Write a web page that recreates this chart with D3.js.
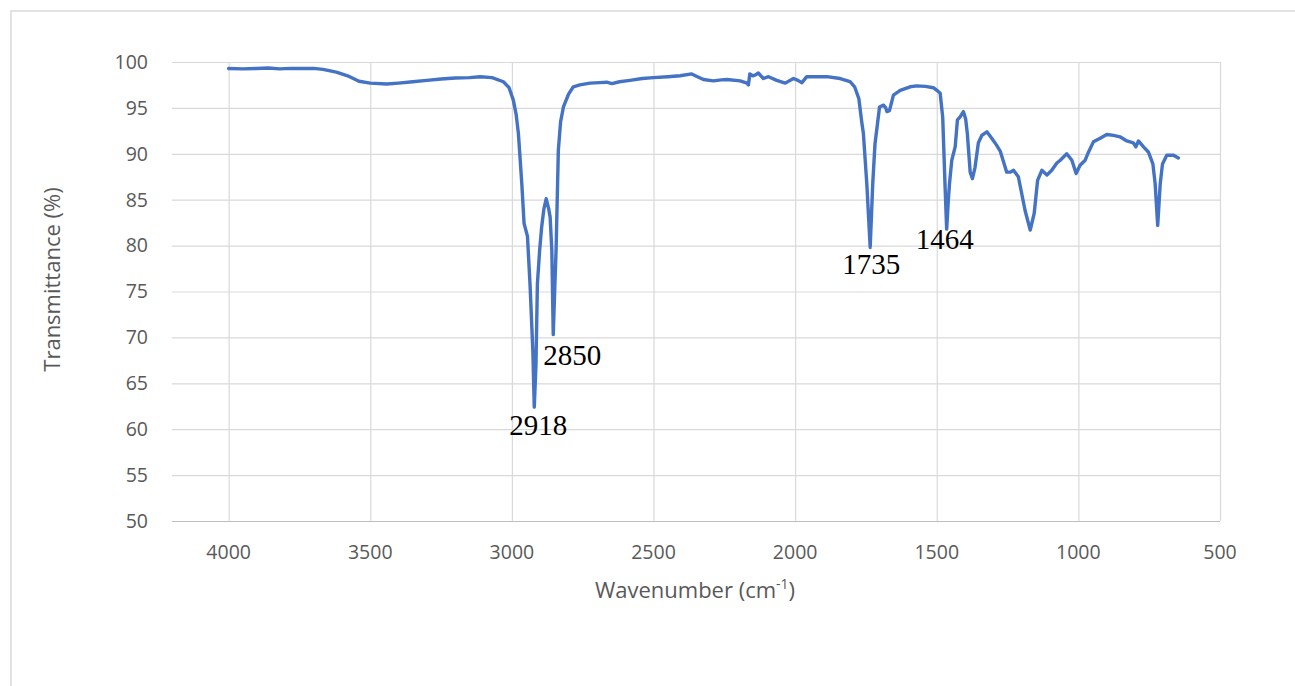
<!DOCTYPE html>
<html>
<head>
<meta charset="utf-8">
<script src="https://cdn.jsdelivr.net/npm/d3@7"></script>
<style>
  body { margin: 0; background: #fff; }
  svg { display: block; }
  .tick-label { font-family: "Open Sans", sans-serif; font-size: 19.5px; fill: #595959; }
  .axis-title { font-family: "Open Sans", sans-serif; font-size: 22px; fill: #595959; }
  .peak-label { font-family: "Liberation Serif", "Times New Roman", serif; font-size: 29px; fill: #000; }
</style>
</head>
<body>
<svg id="svg" width="1295" height="686"></svg>
<script>
// FTIR spectrum
var wavenumber = [4000, 3950, 3900, 3860, 3820, 3780, 3740, 3700, 3667, 3620, 3580, 3540, 3500, 3442, 3400,
    3350, 3300, 3250, 3200, 3150, 3112, 3070, 3030, 3010, 2995, 2985, 2977, 2965, 2957, 2950, 2945, 2936,
    2926, 2921, 2915, 2910, 2902, 2895, 2887, 2879, 2870, 2865, 2859, 2854, 2849, 2844, 2836, 2828, 2818,
    2800, 2783, 2760, 2724, 2690, 2665, 2647, 2620, 2583, 2540, 2500, 2450, 2406, 2365, 2345, 2324, 2289,
    2260, 2241, 2194, 2170, 2165, 2160, 2150, 2140, 2130, 2112, 2094, 2065, 2035, 2006, 1990, 1976, 1959,
    1920, 1888, 1841, 1806, 1790, 1775, 1765, 1759, 1747, 1735, 1726, 1718, 1702, 1688, 1680, 1676, 1667,
    1653, 1629, 1594, 1571, 1540, 1512, 1495, 1488, 1479, 1471, 1465, 1459, 1455, 1447, 1435, 1427, 1418,
    1406, 1398, 1392, 1382, 1374, 1365, 1353, 1341, 1323, 1306, 1290, 1276, 1253, 1240, 1229, 1212, 1188,
    1170, 1156, 1144, 1129, 1111, 1094, 1076, 1064, 1041, 1023, 1008, 994, 976, 964, 947, 923, 900, 876,
    853, 829, 806, 797, 788, 770, 753, 737, 729, 720, 711, 703, 688, 664, 647];

var transmittance = [99.3, 99.25, 99.3, 99.35, 99.25, 99.3, 99.3, 99.3, 99.2, 98.9, 98.5, 97.9, 97.7, 97.6, 97.7,
    97.85, 98.0, 98.15, 98.25, 98.3, 98.4, 98.3, 97.85, 97.2, 95.85, 94.3, 92.2, 86.75, 82.4, 81.6, 81.0, 75.8,
    68.5, 62.4, 67, 75.8, 79.5, 82, 84, 85.1, 84, 83.1, 79.5, 70.3, 75, 79.5, 90.4, 93.5, 95.1,
    96.5, 97.3, 97.5, 97.7, 97.75, 97.8, 97.65, 97.85, 98.0, 98.2, 98.3, 98.4, 98.5, 98.7, 98.4, 98.1, 97.95,
    98.05, 98.1, 97.95, 97.7, 97.5, 98.7, 98.5, 98.6, 98.8, 98.2, 98.4, 98.0, 97.7, 98.2, 98.0, 97.75, 98.4,
    98.4, 98.4, 98.2, 97.85, 97.3, 96.0, 93.5, 92.2, 86.75, 79.8, 86.75, 91.1, 95.1, 95.3, 95.0, 94.6, 94.7,
    96.4, 96.9, 97.3, 97.4, 97.35, 97.2, 96.8, 96.6, 94.0, 86.75, 81.8, 85, 86.75, 89.3, 90.75, 93.7, 94.0,
    94.6, 93.8, 92.2, 88.0, 87.3, 88.5, 91.2, 92.0, 92.4, 91.7, 91.0, 90.3, 88.0, 88.0, 88.2, 87.5, 83.8,
    81.7, 83.5, 87.1, 88.2, 87.7, 88.2, 89.0, 89.3, 90.0, 89.3, 87.85, 88.75, 89.3, 90.2, 91.3, 91.7, 92.1, 92.0,
    91.85, 91.4, 91.2, 90.75, 91.4, 90.75, 90.2, 88.9, 86.75, 82.2, 86.75, 88.9, 89.85, 89.85, 89.55];

var xTicks = [4000, 3500, 3000, 2500, 2000, 1500, 1000, 500];
var yTicks = [50, 55, 60, 65, 70, 75, 80, 85, 90, 95, 100];

// labelled peaks: text + wavenumber of the minimum it sits under
var peakLabels = ["2918", "2850", "1735", "1464"];
var peakWavenumber = [2921, 2854, 1735, 1465];

var svg = d3.select("#svg");

var x = d3.scaleLinear().domain([4200, 500]).range([172, 1220]);
var y = d3.scaleLinear().domain([50, 100]).range([521, 62]);

// chart border
svg.append("rect")
    .attr("x", 11)
    .attr("y", 11)
    .attr("width", 1400)
    .attr("height", 800)
    .attr("fill", "none")
    .attr("stroke", "#d9d9d9")
    .attr("stroke-width", 1.5);

// gridlines
svg.append("g")
    .selectAll("line")
    .data(yTicks)
    .enter()
    .append("line")
    .attr("x1", x(4200))
    .attr("x2", x(500))
    .attr("y1", function(d) { return y(d) + 0.5; })
    .attr("y2", function(d) { return y(d) + 0.5; })
    .attr("stroke", function(d) { return d === 50 ? "#bfbfbf" : "#d9d9d9"; })
    .attr("stroke-width", 1.2);

svg.append("g")
    .selectAll("line")
    .data(xTicks)
    .enter()
    .append("line")
    .attr("x1", function(d) { return x(d) + 0.5; })
    .attr("x2", function(d) { return x(d) + 0.5; })
    .attr("y1", y(100))
    .attr("y2", y(50))
    .attr("stroke", "#d9d9d9")
    .attr("stroke-width", 1.2);

// tick labels
svg.append("g")
    .selectAll("text")
    .data(yTicks)
    .enter()
    .append("text")
    .attr("class", "tick-label")
    .attr("x", x(4200) - 24)
    .attr("y", function(d) { return y(d); })
    .attr("dy", "0.35em")
    .attr("text-anchor", "end")
    .text(function(d) { return d; });

svg.append("g")
    .selectAll("text")
    .data(xTicks)
    .enter()
    .append("text")
    .attr("class", "tick-label")
    .attr("x", function(d) { return x(d); })
    .attr("y", y(50) + 31)
    .attr("dy", "0.35em")
    .attr("text-anchor", "middle")
    .text(function(d) { return d; });

// axis titles
var xt = svg.append("text")
    .attr("class", "axis-title")
    .attr("x", 695)
    .attr("y", 598)
    .attr("text-anchor", "middle");
xt.append("tspan").text("Wavenumber (cm");
xt.append("tspan").attr("dy", -9).attr("font-size", "14px").text("-1");
xt.append("tspan").attr("dy", 9).text(")");

svg.append("text")
    .attr("class", "axis-title")
    .attr("transform", "translate(60," + (y(75) - 12) + ") rotate(-90)")
    .attr("text-anchor", "middle")
    .text("Transmittance (%)");

// spectrum
var points = wavenumber.map(function(w, i) { return [w, transmittance[i]]; });

svg.append("path")
    .datum(points)
    .attr("fill", "none")
    .attr("stroke", "#4472c4")
    .attr("stroke-width", 3.4)
    .attr("stroke-linejoin", "round")
    .attr("stroke-linecap", "round")
    .attr("d", d3.line()
        .x(function(d) { return x(d[0]); })
        .y(function(d) { return y(d[1]); })
    );

// peak labels, offset a little below each minimum
var labelOffset = [[4, 28], [19, 30], [1, 27], [-2, 20]];

svg.append("g")
    .selectAll("text")
    .data(peakLabels)
    .enter()
    .append("text")
    .attr("class", "peak-label")
    .attr("text-anchor", "middle")
    .attr("x", function(d, i) { return x(peakWavenumber[i]) + labelOffset[i][0]; })
    .attr("y", function(d, i) {
        var k = wavenumber.indexOf(peakWavenumber[i]);
        return y(transmittance[k]) + labelOffset[i][1];
    })
    .text(function(d) { return d; });
</script>
</body>
</html>
